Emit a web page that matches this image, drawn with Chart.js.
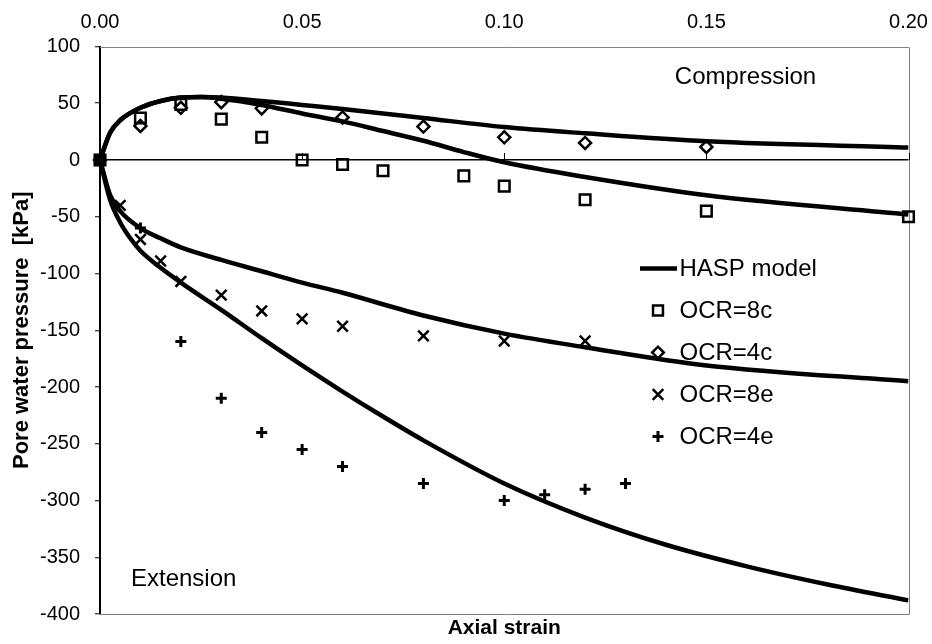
<!DOCTYPE html>
<html>
<head>
<meta charset="utf-8">
<script src="https://cdn.jsdelivr.net/npm/chart.js@4.4.1/dist/chart.umd.min.js"></script>
<style>
    html, body { margin: 0; padding: 0; background: #fff; }
    #wrap { width: 932px; height: 644px; }
</style>
</head>
<body>
<div id="wrap"><canvas id="c" width="932" height="644"></canvas></div>
<script>
// ── ticks ────────────────────────────────────────────────
const xTicks = [0, 0.05, 0.10, 0.15, 0.20];
const yTicks = [-400, -350, -300, -250, -200, -150, -100, -50, 0, 50, 100];

// ── HASP model curves ────────────────────────────────────
const hasp4cX = [0, 0.0025, 0.005, 0.01, 0.015, 0.02, 0.025, 0.03, 0.04, 0.05, 0.06, 0.07, 0.08, 0.10, 0.12, 0.15, 0.20];
const hasp4cY = [0, 24, 35, 46, 52, 55, 55.5, 55, 52, 48.5, 45, 41, 37, 29, 23.5, 16.5, 11];

const hasp8cX = [0, 0.0025, 0.005, 0.01, 0.015, 0.02, 0.025, 0.03, 0.04, 0.05, 0.06, 0.07, 0.08, 0.09, 0.10, 0.12, 0.15, 0.20];
const hasp8cY = [0, 24, 35, 46, 52, 55, 55.5, 54, 48.5, 41, 34, 25.5, 17, 7, -2, -15, -31, -48];

const hasp8eX = [0, 0.0025, 0.005, 0.01, 0.015, 0.02, 0.03, 0.04, 0.05, 0.06, 0.08, 0.10, 0.12, 0.15, 0.20];
const hasp8eY = [0, -31, -45, -60, -69, -77, -88, -98, -108, -117, -137, -153, -165, -181, -195];

const hasp4eX = [0, 0.0025, 0.005, 0.0075, 0.01, 0.015, 0.02, 0.03, 0.04, 0.05, 0.06, 0.07, 0.08, 0.10, 0.12, 0.14, 0.16, 0.18, 0.20];
const hasp4eY = [0, -35, -55, -69, -80, -95, -108, -132, -157, -181, -204, -226, -247, -285, -315, -339, -358, -374, -388];

// ── measured points ─────────────────────────────────────
const ocr8cX = [0, 0.01, 0.02, 0.03, 0.04, 0.05, 0.06, 0.07, 0.09, 0.10, 0.12, 0.15, 0.20];
const ocr8cY = [0, 37, 49, 36, 20, 0, -4, -9.5, -14, -23, -35, -45, -50];

const ocr4cX = [0, 0.01, 0.02, 0.03, 0.04, 0.06, 0.08, 0.10, 0.12, 0.15];
const ocr4cY = [0, 30, 46, 51, 45.5, 37.5, 29.5, 20, 15, 11.5];

const ocr8eX = [0, 0.005, 0.01, 0.015, 0.02, 0.03, 0.04, 0.05, 0.06, 0.08, 0.10, 0.12];
const ocr8eY = [0, -40, -70, -89, -107, -119, -133, -140, -146.5, -155, -159.5, -159.5];

const ocr4eX = [0, 0.01, 0.02, 0.03, 0.04, 0.05, 0.06, 0.08, 0.10, 0.11, 0.12, 0.13];
const ocr4eY = [0, -60, -160, -210, -240, -255, -270, -285, -300, -295, -290, -285];

const FONT = '"Liberation Sans", Arial, Helvetica, sans-serif';
const pts = (xs, ys) => xs.map((x, i) => ({ x, y: ys[i] }));

const modelLine = (label, xs, ys) => ({
    label, data: pts(xs, ys), showLine: true,
    borderColor: '#000', borderWidth: 4.5, pointRadius: 0,
    cubicInterpolationMode: 'monotone', order: 2,
});

const marker = (label, xs, ys, style, radius, bw) => ({
    label, data: pts(xs, ys), showLine: false,
    pointStyle: style, pointRadius: radius, pointBorderWidth: bw,
    pointBorderColor: '#000', pointBackgroundColor: 'rgba(0,0,0,0)',
    borderColor: '#000', backgroundColor: 'rgba(0,0,0,0)',
    clip: false, order: 1,
});

const legendRows = [
    { text: 'OCR=8c', style: 'rect', radius: 7, bw: 2.5 },
    { text: 'OCR=4c', style: 'rectRot', radius: 5.8, bw: 2.5 },
    { text: 'OCR=8e', style: 'crossRot', radius: 7.5, bw: 2.5 },
    { text: 'OCR=4e', style: 'cross', radius: 5.5, bw: 3 },
];

// ── frame, zero-line ticks, legend, notes ───────────────
const decor = {
    id: 'decor',
    beforeDatasetsDraw(chart) {
        const { ctx, chartArea: a, scales: { x, y } } = chart;
        ctx.save();
        ctx.strokeStyle = '#808080';
        ctx.lineWidth = 1;
        ctx.beginPath();
        ctx.moveTo(a.left, Math.round(a.top) + 0.5);
        ctx.lineTo(Math.round(a.right) + 0.5, Math.round(a.top) + 0.5);
        ctx.lineTo(Math.round(a.right) + 0.5, Math.round(a.bottom) + 0.5);
        ctx.lineTo(a.left, Math.round(a.bottom) + 0.5);
        ctx.stroke();

        const y0 = y.getPixelForValue(0);
        ctx.strokeStyle = '#000';
        ctx.beginPath();
        xTicks.forEach(v => {
            if (v === 0) return;
            const px = Math.round(x.getPixelForValue(v)) + 0.5;
            ctx.moveTo(px, y0);
            ctx.lineTo(px, y0 - 7);
        });
        ctx.stroke();
        ctx.restore();
    },
    afterDatasetsDraw(chart) {
        const { ctx, chartArea: a } = chart;
        ctx.save();
        ctx.font = '24px ' + FONT;
        ctx.fillStyle = '#000';
        ctx.textBaseline = 'middle';

        ctx.textAlign = 'center';
        ctx.fillText('Compression', a.right - 163, a.top + 31);
        ctx.textAlign = 'left';
        ctx.fillText('Extension', a.left + 31, a.bottom - 35);

        const mx = a.right - 250.5, tx = a.right - 229;
        let ly = a.top + 222;
        ctx.strokeStyle = '#000';
        ctx.lineWidth = 4.5;
        ctx.beginPath();
        ctx.moveTo(mx - 18, ly);
        ctx.lineTo(mx + 19, ly);
        ctx.stroke();
        ctx.fillText('HASP model', tx, ly + 1);

        legendRows.forEach(r => {
            ly += 42;
            ctx.lineWidth = r.bw;
            ctx.fillStyle = 'rgba(0,0,0,0)';
            Chart.helpers.drawPoint(ctx, { pointStyle: r.style, radius: r.radius, rotation: 0, borderWidth: r.bw }, mx, ly);
            ctx.fillStyle = '#000';
            ctx.fillText(r.text, tx, ly + 1);
        });
        ctx.restore();
    },
};

new Chart(document.getElementById('c'), {
    type: 'scatter',
    data: {
        datasets: [
            modelLine('HASP 4c', hasp4cX, hasp4cY),
            modelLine('HASP 8c', hasp8cX, hasp8cY),
            modelLine('HASP 8e', hasp8eX, hasp8eY),
            modelLine('HASP 4e', hasp4eX, hasp4eY),
            marker('OCR=8c', ocr8cX, ocr8cY, 'rect', 7.5, 2.5),
            marker('OCR=4c', ocr4cX, ocr4cY, 'rectRot', 6, 2.5),
            marker('OCR=8e', ocr8eX, ocr8eY, 'crossRot', 7.5, 2.5),
            marker('OCR=4e', ocr4eX, ocr4eY, 'cross', 5.5, 3),
        ],
    },
    options: {
        responsive: false, animation: false, devicePixelRatio: 1,
        layout: { padding: { left: 0, right: 23.5, top: 0, bottom: 0 } },
        plugins: { legend: { display: false }, tooltip: { enabled: false } },
        scales: {
            x: {
                type: 'linear', position: 'top', min: 0, max: 0.2,
                afterBuildTicks: s => { s.ticks = xTicks.map(v => ({ value: v })); },
                afterFit: s => { s.height = 46.5; },
                grid: { display: false, drawTicks: true, tickLength: 12 },
                border: { display: false },
                ticks: { color: '#000', font: { family: FONT, size: 20 }, padding: 0, callback: v => v.toFixed(2), maxRotation: 0 },
            },
            x2: {
                type: 'linear', position: 'bottom', min: 0, max: 0.2, axis: 'x',
                afterFit: s => { s.height = 30; },
                grid: { display: false, drawTicks: false },
                border: { display: false },
                ticks: { display: false },
                title: { display: true, text: 'Axial strain', color: '#000', font: { family: FONT, size: 21, weight: 'bold' }, padding: { top: 0, bottom: 3 } },
            },
            y: {
                type: 'linear', min: -400, max: 100,
                afterBuildTicks: s => { s.ticks = yTicks.map(v => ({ value: v })); },
                afterFit: s => { s.width = 100; },
                grid: {
                    color: c => (c.tick && c.tick.value === 0 ? '#000' : 'rgba(0,0,0,0)'),
                    lineWidth: 1.5, tickColor: '#000', tickWidth: 1, tickLength: 5,
                },
                border: { color: '#000', width: 2 },
                ticks: { color: '#000', font: { family: FONT, size: 20 }, padding: 15 },
                title: { display: true, text: 'Pore water pressure  [kPa]', color: '#000', font: { family: FONT, size: 22, weight: 'bold' }, padding: { top: 9, bottom: 0 } },
            },
        },
    },
    plugins: [decor],
});
</script>
</body>
</html>
